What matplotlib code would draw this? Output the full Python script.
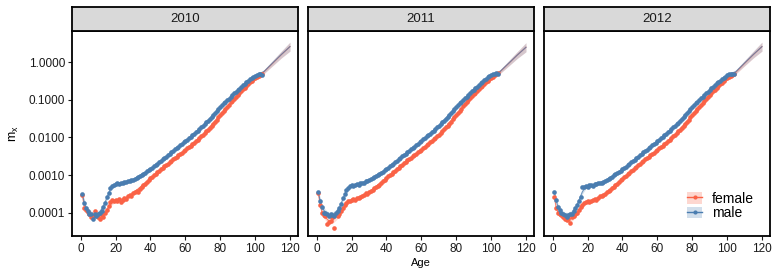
import numpy as np
import matplotlib
matplotlib.use("Agg")
import matplotlib.pyplot as plt
from matplotlib.patches import Patch
from matplotlib.lines import Line2D
from matplotlib.legend_handler import HandlerTuple

years = ["2010", "2011", "2012"]
sexes = ["female", "male"]
ages = list(range(1, 105))

mx_female_2010 = [
    3.0e-4, 1.3e-4, 1.2e-4, 1.05e-4, 9.0e-5, 7.5e-5, 8.0e-5, 1.1e-4, 8.5e-5, 7.5e-5,
    7.0e-5, 8.5e-5, 7.5e-5, 1.0e-4, 1.2e-4, 1.5e-4, 1.9e-4, 2.2e-4, 2.1e-4, 2.2e-4,
    2.0e-4, 2.3e-4, 1.9e-4, 2.2e-4, 2.4e-4, 2.3e-4, 2.8e-4, 3.0e-4, 2.8e-4, 3.4e-4,
    3.6e-4, 3.8e-4, 3.6e-4, 4.3e-4, 4.8e-4, 5.3e-4, 5.8e-4, 6.6e-4, 7.4e-4, 8.2e-4,
    9.0e-4, 9.9e-4, 1.08e-3, 1.18e-3, 1.3e-3, 1.42e-3, 1.55e-3, 1.7e-3, 1.85e-3, 2.0e-3,
    2.2e-3, 2.4e-3, 2.6e-3, 2.85e-3, 3.1e-3, 3.35e-3, 3.65e-3, 3.95e-3, 4.3e-3, 4.7e-3,
    5.1e-3, 5.6e-3, 6.1e-3, 6.7e-3, 7.3e-3, 8.0e-3, 8.8e-3, 9.7e-3, 1.07e-2, 1.18e-2,
    1.31e-2, 1.45e-2, 1.62e-2, 1.82e-2, 2.05e-2, 2.3e-2, 2.6e-2, 3.0e-2, 3.45e-2, 3.95e-2,
    4.5e-2, 5.1e-2, 5.8e-2, 6.6e-2, 7.5e-2, 8.5e-2, 9.6e-2, 1.08e-1, 1.22e-1, 1.37e-1,
    1.53e-1, 1.7e-1, 1.9e-1, 2.1e-1, 2.35e-1, 2.6e-1, 2.9e-1, 3.2e-1, 3.5e-1, 3.8e-1,
    4.1e-1, 4.4e-1, 4.7e-1, 5.0e-1]
mx_male_2010 = [
    3.2e-4, 1.8e-4, 1.3e-4, 1.1e-4, 9.5e-5, 9.0e-5, 7.0e-5, 9.0e-5, 8.0e-5, 9.5e-5,
    1.0e-4, 1.1e-4, 1.4e-4, 1.8e-4, 2.6e-4, 3.3e-4, 4.6e-4, 5.0e-4, 5.6e-4, 5.8e-4,
    6.0e-4, 5.7e-4, 6.2e-4, 6.1e-4, 6.4e-4, 6.6e-4, 6.8e-4, 7.0e-4, 7.3e-4, 7.6e-4,
    8.0e-4, 8.4e-4, 8.7e-4, 9.3e-4, 1.0e-3, 1.08e-3, 1.15e-3, 1.25e-3, 1.35e-3, 1.45e-3,
    1.55e-3, 1.7e-3, 1.85e-3, 2.0e-3, 2.2e-3, 2.4e-3, 2.6e-3, 2.85e-3, 3.1e-3, 3.4e-3,
    3.7e-3, 4.0e-3, 4.4e-3, 4.8e-3, 5.2e-3, 5.7e-3, 6.2e-3, 6.8e-3, 7.4e-3, 8.0e-3,
    8.8e-3, 9.6e-3, 1.05e-2, 1.15e-2, 1.26e-2, 1.38e-2, 1.52e-2, 1.68e-2, 1.85e-2, 2.05e-2,
    2.25e-2, 2.5e-2, 2.8e-2, 3.1e-2, 3.5e-2, 3.9e-2, 4.4e-2, 5.0e-2, 5.7e-2, 6.5e-2,
    7.2e-2, 8.0e-2, 8.9e-2, 9.8e-2, 1.08e-1, 1.2e-1, 1.33e-1, 1.5e-1, 1.65e-1, 1.85e-1,
    2.0e-1, 2.2e-1, 2.45e-1, 2.7e-1, 2.95e-1, 3.2e-1, 3.5e-1, 3.8e-1, 4.1e-1, 4.4e-1,
    4.7e-1, 4.9e-1, 4.8e-1, 4.6e-1]
mx_female_2011 = [
    3.3e-4, 1.6e-4, 1.0e-4, 8.5e-5, 8.0e-5, 5.0e-5, 5.5e-5, 6.0e-5, 7.5e-5, 3.8e-5,
    9.0e-5, 8.0e-5, 9.5e-5, 1.1e-4, 1.3e-4, 1.6e-4, 1.8e-4, 2.0e-4, 2.1e-4, 2.2e-4,
    2.3e-4, 2.2e-4, 2.5e-4, 2.4e-4, 2.6e-4, 2.8e-4, 2.9e-4, 3.3e-4, 3.2e-4, 3.6e-4,
    3.8e-4, 4.1e-4, 4.4e-4, 4.8e-4, 5.2e-4, 5.6e-4, 6.2e-4, 6.8e-4, 7.6e-4, 8.4e-4,
    9.2e-4, 1.0e-3, 1.1e-3, 1.2e-3, 1.32e-3, 1.44e-3, 1.58e-3, 1.72e-3, 1.88e-3, 2.05e-3,
    2.25e-3, 2.45e-3, 2.65e-3, 2.9e-3, 3.15e-3, 3.4e-3, 3.7e-3, 4.0e-3, 4.35e-3, 4.75e-3,
    5.2e-3, 5.7e-3, 6.2e-3, 6.8e-3, 7.4e-3, 8.1e-3, 8.9e-3, 9.8e-3, 1.08e-2, 1.19e-2,
    1.32e-2, 1.47e-2, 1.64e-2, 1.84e-2, 2.07e-2, 2.33e-2, 2.65e-2, 3.05e-2, 3.5e-2, 4.0e-2,
    4.55e-2, 5.15e-2, 5.85e-2, 6.65e-2, 7.55e-2, 8.55e-2, 9.7e-2, 1.1e-1, 1.24e-1, 1.39e-1,
    1.55e-1, 1.72e-1, 1.92e-1, 2.13e-1, 2.38e-1, 2.63e-1, 2.92e-1, 3.22e-1, 3.52e-1, 3.85e-1,
    4.15e-1, 4.45e-1, 4.75e-1, 5.05e-1]
mx_male_2011 = [
    3.6e-4, 2.0e-4, 1.4e-4, 1.0e-4, 1.0e-4, 9.5e-5, 8.0e-5, 9.0e-5, 8.5e-5, 8.0e-5,
    1.0e-4, 1.1e-4, 1.3e-4, 1.7e-4, 2.4e-4, 3.2e-4, 4.0e-4, 4.6e-4, 5.2e-4, 5.4e-4,
    5.2e-4, 5.6e-4, 5.8e-4, 5.5e-4, 6.0e-4, 6.3e-4, 6.1e-4, 6.8e-4, 7.0e-4, 7.4e-4,
    7.9e-4, 8.3e-4, 8.8e-4, 9.4e-4, 1.0e-3, 1.07e-3, 1.16e-3, 1.24e-3, 1.34e-3, 1.46e-3,
    1.57e-3, 1.7e-3, 1.86e-3, 2.02e-3, 2.2e-3, 2.4e-3, 2.62e-3, 2.86e-3, 3.12e-3, 3.4e-3,
    3.72e-3, 4.05e-3, 4.4e-3, 4.8e-3, 5.25e-3, 5.7e-3, 6.2e-3, 6.8e-3, 7.4e-3, 8.1e-3,
    8.9e-3, 9.7e-3, 1.06e-2, 1.16e-2, 1.27e-2, 1.39e-2, 1.53e-2, 1.69e-2, 1.87e-2, 2.07e-2,
    2.28e-2, 2.53e-2, 2.82e-2, 3.15e-2, 3.52e-2, 3.95e-2, 4.45e-2, 5.05e-2, 5.75e-2, 6.55e-2,
    7.3e-2, 8.1e-2, 9.0e-2, 9.9e-2, 1.1e-1, 1.22e-1, 1.35e-1, 1.52e-1, 1.68e-1, 1.87e-1,
    2.05e-1, 2.25e-1, 2.5e-1, 2.75e-1, 3.0e-1, 3.3e-1, 3.6e-1, 3.95e-1, 4.25e-1, 4.55e-1,
    4.8e-1, 5.0e-1, 5.1e-1, 5.0e-1]
mx_female_2012 = [
    2.6e-4, 1.3e-4, 1.0e-4, 9.0e-5, 8.5e-5, 7.5e-5, 7.0e-5, 6.5e-5, 7.0e-5, 5.3e-5,
    7.5e-5, 8.0e-5, 9.0e-5, 1.0e-4, 1.2e-4, 1.4e-4, 1.6e-4, 1.8e-4, 1.9e-4, 2.0e-4,
    1.9e-4, 2.1e-4, 2.2e-4, 2.3e-4, 2.2e-4, 2.5e-4, 2.7e-4, 2.8e-4, 3.0e-4, 3.2e-4,
    3.5e-4, 3.8e-4, 4.1e-4, 4.5e-4, 4.9e-4, 5.4e-4, 5.9e-4, 6.5e-4, 7.2e-4, 8.0e-4,
    8.8e-4, 9.7e-4, 1.06e-3, 1.16e-3, 1.27e-3, 1.4e-3, 1.53e-3, 1.68e-3, 1.83e-3, 2.0e-3,
    2.18e-3, 2.38e-3, 2.6e-3, 2.84e-3, 3.08e-3, 3.35e-3, 3.64e-3, 3.95e-3, 4.3e-3, 4.68e-3,
    5.1e-3, 5.55e-3, 6.05e-3, 6.6e-3, 7.2e-3, 7.9e-3, 8.7e-3, 9.6e-3, 1.06e-2, 1.17e-2,
    1.3e-2, 1.44e-2, 1.6e-2, 1.8e-2, 2.02e-2, 2.28e-2, 2.58e-2, 2.95e-2, 3.4e-2, 3.9e-2,
    4.45e-2, 5.05e-2, 5.75e-2, 6.55e-2, 7.45e-2, 8.45e-2, 9.55e-2, 1.08e-1, 1.21e-1, 1.36e-1,
    1.52e-1, 1.69e-1, 1.88e-1, 2.09e-1, 2.33e-1, 2.58e-1, 2.87e-1, 3.17e-1, 3.48e-1, 3.8e-1,
    4.1e-1, 4.4e-1, 4.7e-1, 4.95e-1]
mx_male_2012 = [
    3.5e-4, 2.2e-4, 1.4e-4, 1.2e-4, 1.0e-4, 9.0e-5, 8.5e-5, 7.5e-5, 8.5e-5, 9.0e-5,
    9.5e-5, 1.1e-4, 1.3e-4, 1.6e-4, 2.0e-4, 2.6e-4, 4.9e-4, 4.8e-4, 5.0e-4, 4.9e-4,
    5.4e-4, 5.5e-4, 5.2e-4, 5.8e-4, 5.9e-4, 6.0e-4, 6.3e-4, 6.2e-4, 6.6e-4, 7.0e-4,
    7.5e-4, 7.9e-4, 8.5e-4, 9.1e-4, 9.8e-4, 1.05e-3, 1.13e-3, 1.22e-3, 1.32e-3, 1.43e-3,
    1.54e-3, 1.68e-3, 1.83e-3, 1.99e-3, 2.17e-3, 2.37e-3, 2.58e-3, 2.82e-3, 3.08e-3, 3.36e-3,
    3.67e-3, 4.0e-3, 4.36e-3, 4.75e-3, 5.18e-3, 5.65e-3, 6.15e-3, 6.7e-3, 7.32e-3, 8.0e-3,
    8.75e-3, 9.55e-3, 1.04e-2, 1.14e-2, 1.25e-2, 1.37e-2, 1.51e-2, 1.67e-2, 1.84e-2, 2.03e-2,
    2.24e-2, 2.49e-2, 2.77e-2, 3.08e-2, 3.45e-2, 3.87e-2, 4.36e-2, 4.95e-2, 5.65e-2, 6.45e-2,
    7.2e-2, 8.0e-2, 8.85e-2, 9.8e-2, 1.09e-1, 1.21e-1, 1.34e-1, 1.5e-1, 1.66e-1, 1.85e-1,
    2.02e-1, 2.22e-1, 2.46e-1, 2.72e-1, 2.98e-1, 3.25e-1, 3.55e-1, 3.85e-1, 4.15e-1, 4.45e-1,
    4.75e-1, 4.95e-1, 5.0e-1, 4.9e-1]

smooth_ages = [1, 2, 3, 5, 7, 9, 11, 13, 15, 17, 19, 21, 25, 30, 40, 50, 60, 70, 80, 90,
               100, 105, 110, 115, 120]
smooth_female_2010 = [2.8e-4, 1.5e-4, 1.15e-4, 9.2e-5, 8.5e-5, 8.3e-5, 8.3e-5, 9.0e-5, 1.2e-4, 1.7e-4,
                      2.0e-4, 2.1e-4, 2.4e-4, 3.3e-4, 8.2e-4, 2.0e-3, 4.7e-3, 1.18e-2, 3.95e-2, 1.37e-1,
                      3.9e-1, 5.5e-1, 9.3e-1, 1.58, 2.6]
smooth_male_2010 = [3.0e-4, 1.9e-4, 1.35e-4, 1.0e-4, 8.8e-5, 8.8e-5, 1.05e-4, 1.45e-4, 2.5e-4, 4.2e-4,
                    5.4e-4, 5.9e-4, 6.4e-4, 7.6e-4, 1.45e-3, 3.4e-3, 8.0e-3, 2.05e-2, 6.4e-2, 1.85e-1,
                    4.3e-1, 5.6e-1, 9.5e-1, 1.6, 2.6]
smooth_female_2011 = [3.1e-4, 1.6e-4, 1.05e-4, 7.5e-5, 6.0e-5, 6.2e-5, 7.5e-5, 9.5e-5, 1.3e-4, 1.75e-4,
                      2.05e-4, 2.25e-4, 2.6e-4, 3.5e-4, 8.4e-4, 2.05e-3, 4.75e-3, 1.19e-2, 4.0e-2, 1.39e-1,
                      3.9e-1, 5.5e-1, 9.2e-1, 1.55, 2.5]
smooth_male_2011 = [3.4e-4, 2.0e-4, 1.4e-4, 1.0e-4, 8.6e-5, 8.6e-5, 1.0e-4, 1.35e-4, 2.3e-4, 3.9e-4,
                    5.0e-4, 5.4e-4, 6.0e-4, 7.4e-4, 1.46e-3, 3.4e-3, 8.1e-3, 2.07e-2, 6.55e-2, 1.87e-1,
                    4.5e-1, 5.6e-1, 9.3e-1, 1.55, 2.5]
smooth_female_2012 = [2.5e-4, 1.35e-4, 1.02e-4, 8.6e-5, 7.3e-5, 6.8e-5, 7.2e-5, 8.8e-5, 1.18e-4, 1.6e-4,
                      1.9e-4, 2.0e-4, 2.3e-4, 3.2e-4, 8.0e-4, 2.0e-3, 4.68e-3, 1.17e-2, 3.9e-2, 1.36e-1,
                      3.8e-1, 5.4e-1, 9.3e-1, 1.58, 2.6]
smooth_male_2012 = [3.3e-4, 2.1e-4, 1.45e-4, 1.02e-4, 8.5e-5, 8.5e-5, 9.8e-5, 1.3e-4, 2.1e-4, 3.6e-4,
                    4.9e-4, 5.3e-4, 5.9e-4, 7.0e-4, 1.43e-3, 3.36e-3, 8.0e-3, 2.03e-2, 6.45e-2, 1.85e-1,
                    4.45e-1, 5.6e-1, 9.5e-1, 1.6, 2.6]
smooth_halfwidth_log10 = [0.10, 0.09, 0.08, 0.08, 0.08, 0.08, 0.08, 0.08, 0.07, 0.06,
                          0.05, 0.05, 0.04, 0.035, 0.03, 0.025, 0.025, 0.025, 0.025, 0.03,
                          0.04, 0.05, 0.07, 0.09, 0.12]

observed = {
    ("2010", "female"): mx_female_2010, ("2010", "male"): mx_male_2010,
    ("2011", "female"): mx_female_2011, ("2011", "male"): mx_male_2011,
    ("2012", "female"): mx_female_2012, ("2012", "male"): mx_male_2012,
}
smoothed = {
    ("2010", "female"): smooth_female_2010, ("2010", "male"): smooth_male_2010,
    ("2011", "female"): smooth_female_2011, ("2011", "male"): smooth_male_2011,
    ("2012", "female"): smooth_female_2012, ("2012", "male"): smooth_male_2012,
}

x_ticks = [0, 20, 40, 60, 80, 100, 120]
y_ticks = [1e-4, 1e-3, 1e-2, 1e-1, 1.0]

colors = {"female": "#FA6246", "male": "#4A7DB0"}

plt.rcParams['font.family'] = ['Liberation Sans', 'DejaVu Sans']

W, H = 779, 276
fig = plt.figure(figsize=(W / 100, H / 100), dpi=100)
lefts = [72, 308, 544]
pw = 226
top, bottom = 31, 236
strip_top = 7
spine_lw = 1.3

hw = np.array(smooth_halfwidth_log10)
for i, year in enumerate(years):
    ax = fig.add_axes([lefts[i] / W, (H - bottom) / H, pw / W, (bottom - top) / H])
    for sex in sexes:
        c = colors[sex]
        sa = np.array(smooth_ages)
        sv = np.array(smoothed[(year, sex)])
        ax.fill_between(sa, sv * 10 ** (-hw), sv * 10 ** hw, color=c, alpha=0.22,
                        linewidth=0, zorder=1)
    for sex in sexes:
        c = colors[sex]
        ax.plot(smooth_ages, smoothed[(year, sex)], color=c, lw=0.8, alpha=0.75, zorder=2)
        ax.scatter(ages, observed[(year, sex)], s=11, color=c, linewidths=0, zorder=3)
    ax.set_yscale('log')
    ax.set_xlim(-5, 124.6)
    ax.set_ylim(10 ** -4.62, 10 ** 0.83)
    ax.set_xticks(x_ticks)
    ax.set_xticklabels([str(t) for t in x_ticks])
    ax.minorticks_off()
    ax.set_yticks(y_ticks)
    if i == 0:
        ax.set_yticklabels([f"{v:.4f}" for v in y_ticks])
        ax.tick_params(axis='y', length=3, width=0.8, labelsize=8.5, colors='#1a1a1a', pad=2)
    else:
        ax.set_yticklabels([])
        ax.tick_params(axis='y', length=0)
    ax.tick_params(axis='x', length=3, width=0.8, labelsize=8.5, colors='#1a1a1a', pad=2)
    for s in ax.spines.values():
        s.set_linewidth(spine_lw)
        s.set_color('black')
    # strip
    sax = fig.add_axes([lefts[i] / W, (H - top) / H, pw / W, (top - strip_top) / H])
    sax.set_facecolor('#D9D9D9')
    sax.set_xticks([])
    sax.set_yticks([])
    for s in sax.spines.values():
        s.set_linewidth(spine_lw)
        s.set_color('black')
    sax.text(0.5, 0.5, year, ha='center', va='center', fontsize=9.5, color='#1a1a1a',
             transform=sax.transAxes)
    if i == 2:
        handles = []
        for sex in sexes:
            c = colors[sex]
            handles.append((Patch(facecolor=c, alpha=0.25, edgecolor='none'),
                            Line2D([], [], color=c, lw=1.0, marker='o', markersize=3,
                                   markeredgewidth=0)))
        fig.legend(handles, sexes, handler_map={tuple: HandlerTuple(ndivide=1, pad=0)},
                   loc='center left', bbox_to_anchor=(687 / W, (H - 206) / H),
                   frameon=False, fontsize=10, handlelength=1.1, handleheight=0.9,
                   handletextpad=0.7, labelspacing=0.05, borderpad=0, borderaxespad=0)

fig.text((308 + 113) / W, (H - 263) / H, "Age", ha='center', va='center', fontsize=8)
fig.text(14 / W, (H - 134) / H, r"$\mathregular{m_x}$", ha='center', va='center',
         fontsize=9, rotation=90)

fig.savefig("out.png", dpi=100)
